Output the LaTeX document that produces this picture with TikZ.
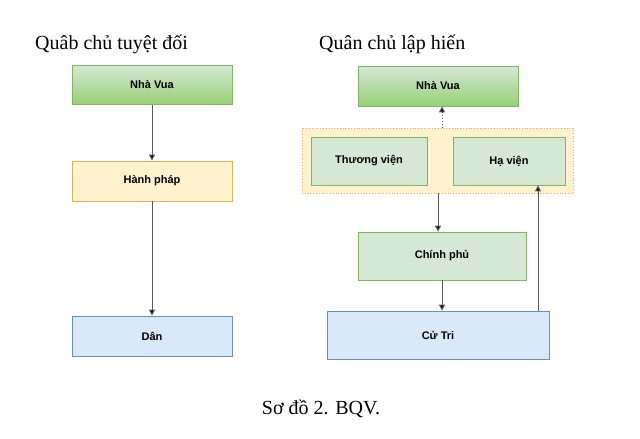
\documentclass[tikz,border=0pt]{standalone}
\usepackage{fontspec}
\setmainfont{Liberation Serif}
\newfontfamily\boxfont{Liberation Sans}
\usetikzlibrary{arrows.meta,calc}
\definecolor{greenfill}{HTML}{D5E8D4}
\definecolor{greendark}{HTML}{97D077}
\definecolor{greenline}{HTML}{82B366}
\definecolor{yellowfill}{HTML}{FFF2CC}
\definecolor{yellowline}{HTML}{D6B656}
\definecolor{bluefill}{HTML}{DAE8FC}
\definecolor{blueline}{HTML}{6C8EBF}
\begin{document}
\begin{tikzpicture}[x=1pt, y=-1pt,
    box/.style={rectangle, inner sep=0pt, line width=0.8pt, font=\boxfont\fontsize{11}{13}\selectfont\bfseries},
    kingbox/.style={box, draw=greenline, top color=greenfill, bottom color=greendark},
    greenbox/.style={box, draw=greenline, fill=greenfill},
    yellowbox/.style={box, draw=yellowline, fill=yellowfill},
    bluebox/.style={box, draw=blueline, fill=bluefill},
    link/.style={draw=black!65, line width=1pt, -{Triangle[width=6pt,length=6pt,fill=black]}},
    heading/.style={font=\fontsize{20}{24}\selectfont, anchor=base west, inner sep=0pt}]
    \useasboundingbox[fill=white] (0,0) rectangle (640,439);
    % left: absolute monarchy
    \node[heading] (titleL) at (35,49) {Quâb chủ tuyệt đối};
    \node[kingbox, minimum width=160pt, minimum height=39pt] (kingL) at (152,85) {Nhà Vua};
    \node[yellowbox, minimum width=160pt, minimum height=40pt] (execL) at (152,181) {Hành pháp};
    \node[bluebox, minimum width=160pt, minimum height=40pt] (peopleL) at (152,336) {Dân};
    \draw[link] (kingL.south) -- (execL.north);
    \draw[link] (execL.south) -- (peopleL.north);
    % right: constitutional monarchy
    \node[heading] (titleR) at (319,49) {Quân chủ lập hiến};
    \node[kingbox, minimum width=160pt, minimum height=40pt] (kingR) at (438,86) {Nhà Vua};
    \node[box, draw=yellowline, fill=yellowfill, dotted, minimum width=271pt, minimum height=65pt] (parl) at (437.5,160.5) {};
    \node[greenbox, minimum width=116pt, minimum height=48pt] (upper) at (369,161) {Thương viện};
    \node[greenbox, minimum width=112pt, minimum height=48pt] (lower) at (509,161) {Hạ viện};
    \node[greenbox, minimum width=168pt, minimum height=48pt] (gov) at (442,256) {Chính phủ};
    \node[bluebox, minimum width=222pt, minimum height=48pt] (voters) at (438,335) {Cử Tri};
    \coordinate (up) at (442,0);
    \coordinate (down) at (438,0);
    \coordinate (vote) at (538,0);
    \draw[link, dotted] (parl.north -| up) -- (kingR.south -| up);
    \draw[link] (parl.south -| down) -- (gov.north -| down);
    \draw[link] (gov.south) -- (gov.south |- voters.north);
    \draw[link] (voters.north -| vote) -- (lower.south -| vote);
    % caption
    \node[font=\fontsize{20}{24}\selectfont, anchor=base, inner sep=0pt] (caption) at (321,414) {Sơ đồ 2. BQV.};
\end{tikzpicture}
\end{document}
